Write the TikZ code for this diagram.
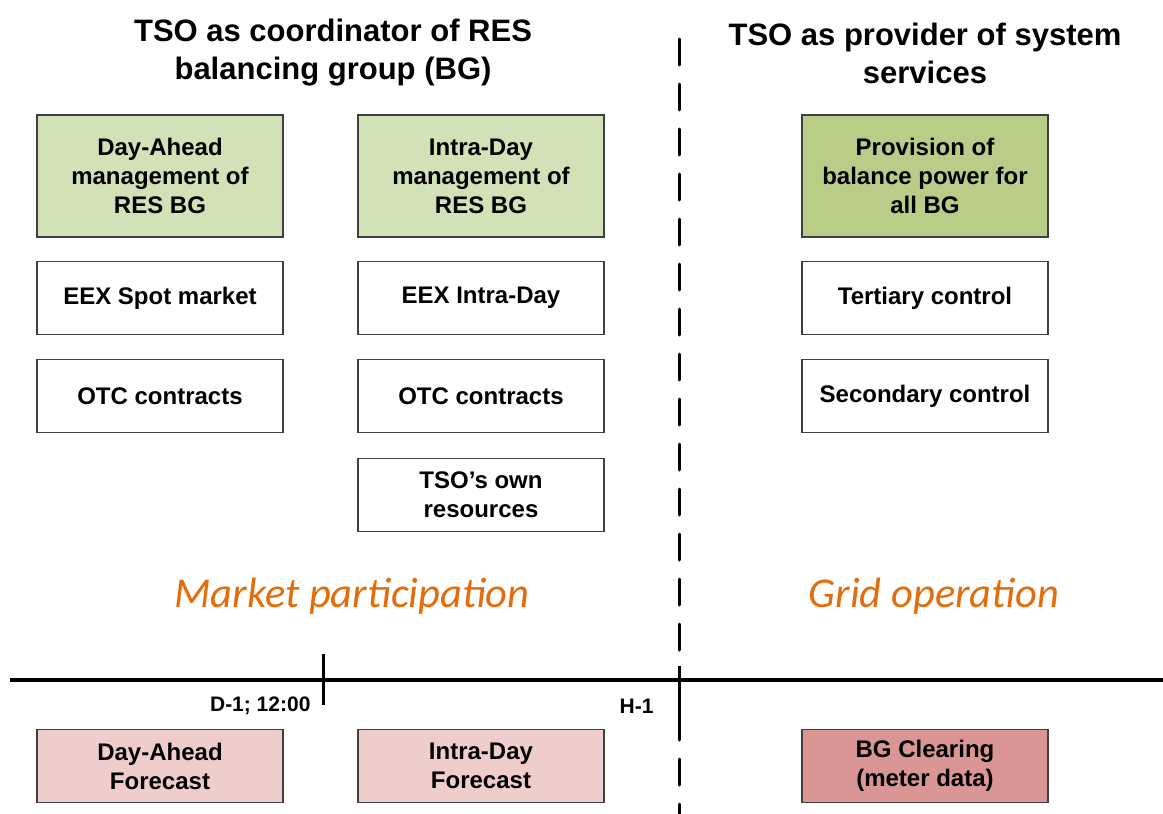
\documentclass[tikz,border=0pt]{standalone}
\usepackage{fontspec}
\setmainfont{Liberation Sans}
\newfontfamily\notefont{Carlito}

\definecolor{mgmtgreen}{HTML}{D3E1B6}
\definecolor{provgreen}{HTML}{B9CD88}
\definecolor{fcpink}{HTML}{EECDCC}
\definecolor{clearpink}{HTML}{D99694}
\definecolor{notecolor}{HTML}{E46C0A}

\begin{document}
\begin{tikzpicture}[
    x=1pt, y=-1pt,
    box/.style={
        draw=black!75,
        line width=1.2pt,
        minimum width=246pt,
        minimum height=73pt,
        inner sep=0pt,
        align=center,
        font=\fontsize{24}{29}\selectfont\bfseries
    },
    tallbox/.style={box, minimum height=122pt},
    title/.style={
        align=center,
        font=\fontsize{31}{38}\selectfont\bfseries
    },
    note/.style={
        text=notecolor,
        font=\fontsize{42.5}{48}\selectfont\notefont\itshape
    },
    mark label/.style={
        anchor=east,
        font=\fontsize{21}{24}\selectfont\bfseries
    },
    timeline/.style={line width=3.2pt}
]
\useasboundingbox (0,0) rectangle (1163,814);

% Titles
\node[title] (tl) at (333,53) {TSO as coordinator of RES\\balancing group (BG)};
\node[title] (tr) at (925,53) {TSO as provider of system\\services};

% Day-ahead column
\node[tallbox, fill=mgmtgreen] (da) at (160,176) {Day-Ahead\\management of\\RES BG};
\node[box] (spot) at (160,298) {EEX Spot market};
\node[box] (otc1) at (160,396) {OTC contracts};

% Intra-day column
\node[tallbox, fill=mgmtgreen] (id) at (481,176) {Intra-Day\\management of\\RES BG};
\node[box] (eexid) at (481,298) {EEX Intra-Day};
\node[box] (otc2) at (481,396) {OTC contracts};
\node[box] (own) at (481,495) {TSO’s own\\resources};

% System services column
\node[tallbox, fill=provgreen] (prov) at (925,176) {Provision of\\balance power for\\all BG};
\node[box] (tert) at (925,298) {Tertiary control};
\node[box] (sec) at (925,396) {Secondary control};

% Captions
\node[note] (mkt) at (352,596) {Market participation};
\node[note] (grid) at (934,596) {Grid operation};

% Divider
\coordinate (divtop) at (679,39);
\coordinate (divbot) at (679,814);
\draw[line width=3pt, line cap=round, dash pattern=on 26pt off 19pt]
    (divtop) -- (divbot);

% Time axis
\coordinate (t0) at (10,680);
\coordinate (t1) at (1163,680);
\draw[timeline] (t0) -- (t1);
\coordinate (dtop) at (323,654);
\coordinate (dbot) at (323,705);
\draw[line width=3pt] (dtop) -- (dbot);
\coordinate (htop) at (679,666);
\coordinate (hbot) at (679,716);
\draw[line width=3pt] (htop) -- (hbot);
\node[mark label] (dlab) at (314,706) {D-1; 12:00};
\node[mark label] (hlab) at (657,706) {H-1};

% Forecasts and clearing
\node[box, fill=fcpink] (dafc) at (160,766) {Day-Ahead\\Forecast};
\node[box, fill=fcpink] (idfc) at (481,766) {Intra-Day\\Forecast};
\node[box, fill=clearpink] (clear) at (925,766) {BG Clearing\\(meter data)};

\end{tikzpicture}
\end{document}
